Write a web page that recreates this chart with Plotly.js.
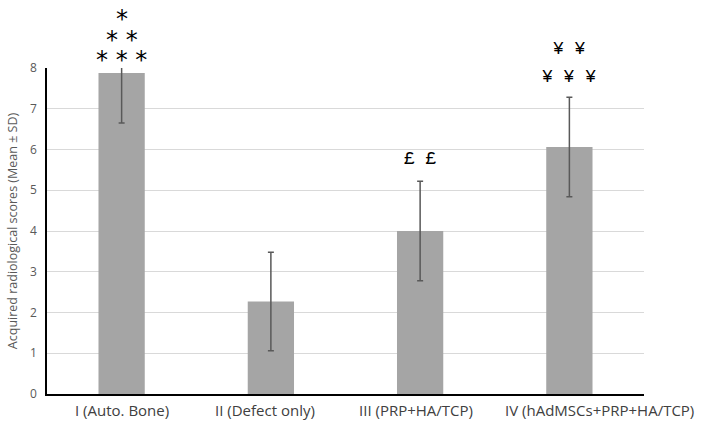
<!DOCTYPE html>
<html lang="en">
<head>
    <meta charset="UTF-8">
    <title>Acquired radiological scores</title>
    <script src="https://cdn.plot.ly/plotly-3.0.1.min.js" charset="utf-8"></script>
    <style>
        body { margin: 0; background: #fff; }
        #chart { width: 703px; height: 421px; }
    </style>
</head>
<body>
<div id="chart"></div>
<script>
// Groups and scores (mean ± SD)
const groups = ['I (Auto. Bone)', 'II (Defect only)', 'III (PRP+HA/TCP)', 'IV (hAdMSCs+PRP+HA/TCP)'];
const means = [7.88, 2.27, 4.0, 6.06];
const sds = [1.23, 1.21, 1.22, 1.22];
const yMax = 8;

// Significance marks above bars (levels in score units)
const markGroups = [groups[0], groups[0], groups[0], groups[2], groups[3], groups[3]];
const markTexts = ['*', '* *', '* * *', '£ £', '¥ ¥', '¥ ¥ ¥'];
const markLevels = [9.33, 8.81, 8.32, 5.77, 8.47, 7.78];

// horizontal nudge of category labels (the long last one sits right of its bar)
const labelShift = [0, -6, -4, 30];

const data = [{
    type: 'bar',
    x: groups,
    y: means,
    marker: { color: '#a5a5a5' },
    error_y: {
        type: 'data',
        array: sds,
        visible: true,
        color: '#595959',
        thickness: 1.5,
        width: 3
    },
    hoverinfo: 'none'
}];

// marks above the top of the axis get hidden with yref 'y', so place them on paper
const annotations = markTexts.map((t, i) => {
    const star = t.includes('*');
    return {
        x: markGroups[i],
        y: markLevels[i] / yMax,
        xref: 'x',
        yref: 'paper',
        yanchor: 'middle',
        yshift: star ? -5 : 0,
        text: t,
        showarrow: false,
        font: {
            family: star ? 'DejaVu Sans' : 'Liberation Mono',
            size: star ? 24 : 18,
            color: '#000'
        }
    };
});

// category labels under the axis
groups.forEach((g, i) => {
    annotations.push({
        x: g,
        y: 0,
        xref: 'x',
        yref: 'paper',
        yanchor: 'top',
        yshift: -4,
        xshift: labelShift[i],
        text: g,
        showarrow: false,
        font: { family: 'Open Sans', size: 15, color: '#404040' }
    });
});

const layout = {
    width: 703,
    height: 421,
    margin: { l: 47, r: 59, t: 68, b: 27 },
    paper_bgcolor: '#fff',
    plot_bgcolor: '#fff',
    bargap: 0.69,
    showlegend: false,
    font: { family: 'Open Sans', color: '#595959' },
    xaxis: {
        range: [-0.5, groups.length - 0.5],
        autorange: false,
        showline: true,
        linecolor: '#000',
        linewidth: 1.5,
        ticks: '',
        showticklabels: false,
        showgrid: false
    },
    yaxis: {
        range: [0, yMax],
        autorange: false,
        dtick: 1,
        showline: true,
        linecolor: '#000',
        linewidth: 1.5,
        showgrid: true,
        gridcolor: '#d9d9d9',
        zeroline: false,
        ticks: '',
        ticklabelstandoff: 6,
        tickfont: { size: 12, color: '#595959' },
        title: {
            text: 'Acquired radiological scores (Mean ± SD)',
            font: { size: 12.5, color: '#595959' },
            standoff: 10
        }
    },
    annotations: annotations
};

Plotly.newPlot('chart', data, layout, { displayModeBar: false });
</script>
</body>
</html>
